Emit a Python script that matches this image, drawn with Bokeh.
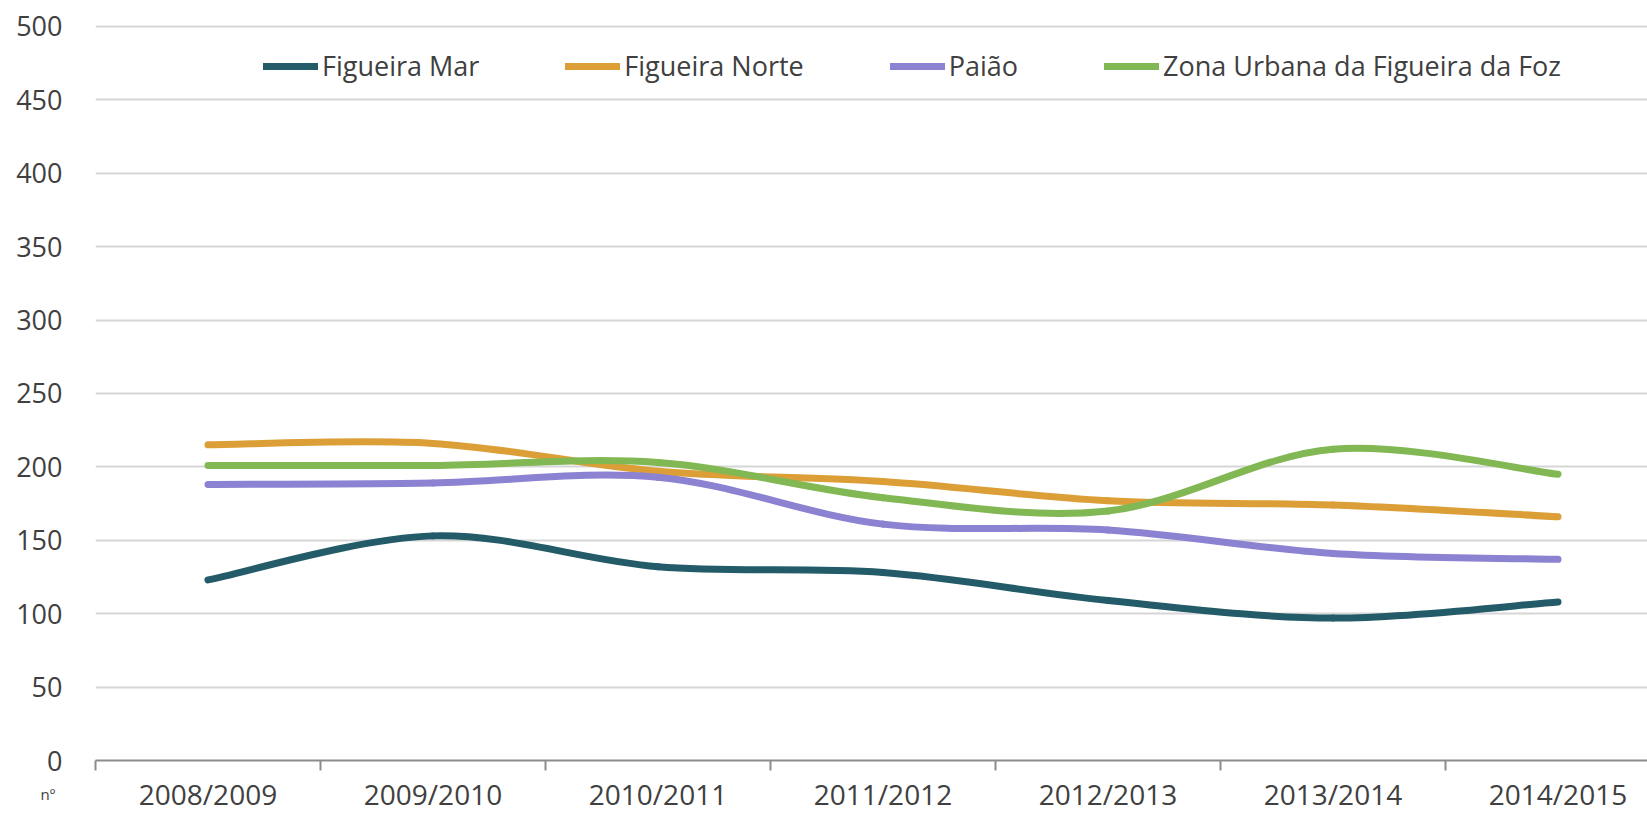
from bokeh.plotting import figure
from bokeh.models import (Range1d, FixedTicker, Legend, LegendItem, Label,
                          ColumnDataSource)
from bokeh.embed import file_html
from bokeh.resources import INLINE

categories = ["2008/2009", "2009/2010", "2010/2011", "2011/2012",
              "2012/2013", "2013/2014", "2014/2015"]
figueira_mar = [123, 153, 132, 128, 109, 97, 108]
figueira_norte = [215, 216, 197, 190, 177, 174, 166]
paiao = [188, 189, 193, 161, 157, 141, 137]
zona_urbana = [201, 201, 203, 179, 170, 212, 195]

series = [
    ("Figueira Mar", figueira_mar, "#235b68"),
    ("Figueira Norte", figueira_norte, "#dc9f37"),
    ("Paião", paiao, "#8b82d2"),
    ("Zona Urbana da Figueira da Foz", zona_urbana, "#82b854"),
]

xs = [i + 0.5 for i in range(len(categories))]


def smooth_segments(x, y):
    # Excel-style smoothed line: cubic Bezier segments through the data points
    n = len(x)
    d = dict(x0=[], y0=[], x1=[], y1=[], cx0=[], cy0=[], cx1=[], cy1=[])
    for i in range(n - 1):
        xp, yp = (x[i - 1], y[i - 1]) if i > 0 else (x[i], y[i])
        xn, yn = (x[i + 2], y[i + 2]) if i + 2 < n else (x[i + 1], y[i + 1])
        d["x0"].append(x[i]); d["y0"].append(y[i])
        d["x1"].append(x[i + 1]); d["y1"].append(y[i + 1])
        d["cx0"].append(x[i] + (x[i + 1] - xp) / 6.0)
        d["cy0"].append(y[i] + (y[i + 1] - yp) / 6.0)
        d["cx1"].append(x[i + 1] - (xn - x[i]) / 6.0)
        d["cy1"].append(y[i + 1] - (yn - y[i]) / 6.0)
    return d


FONT = "Open Sans"
TXT = "#404040"
CAT_W = 225.0
LEFT = 95
W, H = 1647, 815
FRAME_W = W - LEFT

p = figure(width=W, height=H, output_backend="svg", toolbar_location=None,
           x_range=Range1d(0, FRAME_W / CAT_W), y_range=Range1d(0, 502),
           min_border_left=LEFT, min_border_right=0, min_border_top=23,
           min_border_bottom=54)
p.outline_line_color = None
p.background_fill_color = "white"
p.border_fill_color = "white"

# y axis
p.yaxis.ticker = FixedTicker(ticks=list(range(0, 501, 50)))
p.yaxis.axis_line_color = None
p.yaxis.major_tick_line_color = None
p.yaxis.minor_tick_line_color = None
p.yaxis.major_tick_out = 0
p.yaxis.major_tick_in = 0
p.yaxis.major_label_standoff = 33
p.yaxis.major_label_text_font = FONT
p.yaxis.major_label_text_font_size = "27px"
p.yaxis.major_label_text_color = TXT

# x axis
p.xaxis.ticker = FixedTicker(ticks=xs, minor_ticks=list(range(0, 8)))
p.xaxis.major_label_overrides = {x: c for x, c in zip(xs, categories)}
p.xaxis.axis_line_color = "#8c8c8c"
p.xaxis.axis_line_width = 2
p.xaxis.major_tick_line_color = None
p.xaxis.major_tick_out = 0
p.xaxis.major_tick_in = 0
p.xaxis.minor_tick_line_color = "#8c8c8c"
p.xaxis.minor_tick_line_width = 2
p.xaxis.minor_tick_out = 10
p.xaxis.minor_tick_in = 0
p.xaxis.major_label_standoff = 4
p.xaxis.major_label_text_font = FONT
p.xaxis.major_label_text_font_size = "28px"
p.xaxis.major_label_text_color = TXT

p.xgrid.grid_line_color = None
p.ygrid.grid_line_color = "#d6d6d6"
p.ygrid.grid_line_width = 2

items = []
for name, vals, col in series:
    src = ColumnDataSource(smooth_segments(xs, vals))
    r = p.bezier(x0="x0", y0="y0", x1="x1", y1="y1", cx0="cx0", cy0="cy0",
                 cx1="cx1", cy1="cy1", source=src, line_color=col,
                 line_width=7, line_cap="round")
    items.append(LegendItem(label=name, renderers=[r]))

legend = Legend(items=items, orientation="horizontal", location=(168, 676),
                border_line_color=None, background_fill_alpha=0,
                padding=0, margin=0, spacing=86, label_standoff=4,
                glyph_width=55, glyph_height=20,
                label_text_font=FONT, label_text_font_size="27px",
                label_text_color=TXT)
p.add_layout(legend, "center")

# unit label placed in a side panel so it is not clipped to the frame
p.add_layout(Label(x=-(LEFT - 40) / CAT_W, y=-23, x_units="data", y_units="data",
                   text="nº", text_font=FONT, text_font_size="15px",
                   text_color=TXT, text_baseline="middle"), "above")

open("out.html", "w").write(file_html(p, INLINE))
